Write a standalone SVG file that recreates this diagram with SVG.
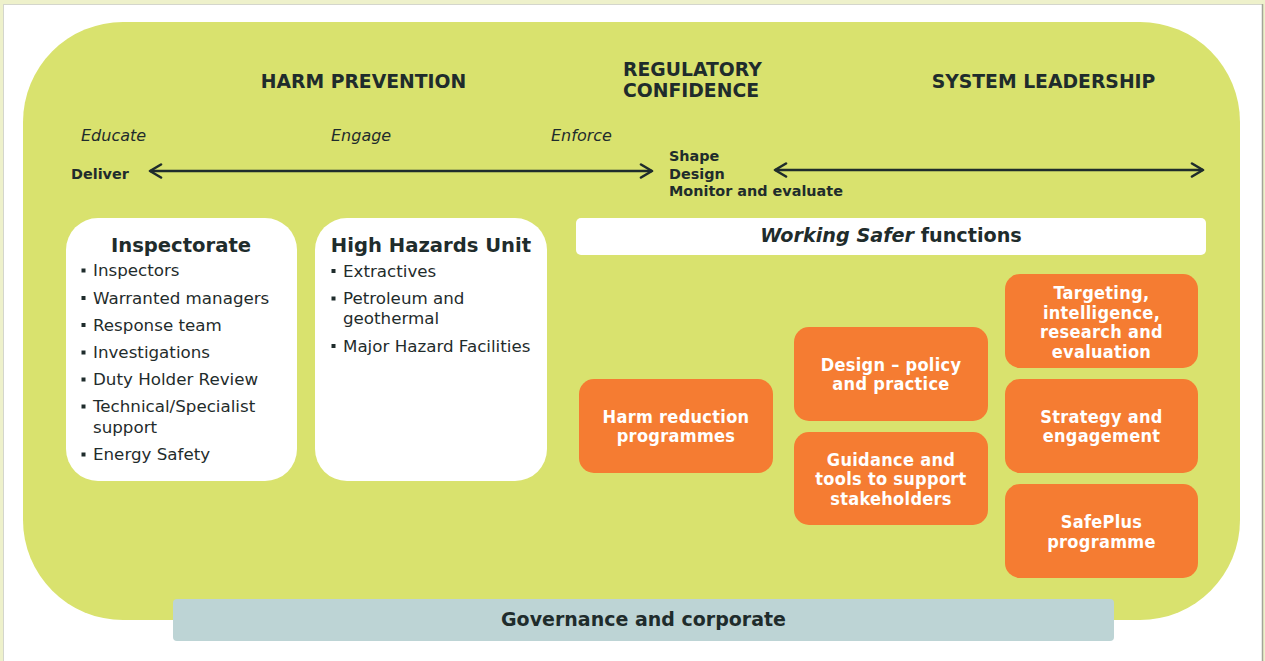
<svg xmlns="http://www.w3.org/2000/svg" width="1265" height="661" viewBox="0 0 1265 661">
  <defs>
    <style>
      .t { font-family: "DejaVu Sans", Verdana, sans-serif; fill: #1f2c2c; }
      .hd { font-weight: bold; font-size: 18.8px; }
      .ph { font-style: italic; font-size: 16px; }
      .st { font-family: "DejaVu Sans", sans-serif; font-weight: bold; font-size: 14.4px; fill: #1f2c2c; }
      .ttl { font-weight: bold; font-size: 19.6px; text-anchor: middle; }
      .li { font-size: 16.7px; }
      .bul { fill: #1f2c2c; }
      .wbox { fill: #ffffff; }
      .obox { fill: #f57c32; }
      .ot { font-family: "DejaVu Sans Condensed", "DejaVu Sans", sans-serif; font-stretch: condensed; font-weight: bold; font-size: 18px; letter-spacing: 0.3px; fill: #ffffff; text-anchor: middle; }
      .arrow { stroke: #1f2c2c; stroke-width: 2.6; fill: none; }
    </style>
    <marker id="chev" markerUnits="userSpaceOnUse" viewBox="0 0 16 16" refX="14" refY="8" markerWidth="16" markerHeight="16" orient="auto-start-reverse">
      <path d="M3,1.5 L14,8 L3,14.5" fill="none" stroke="#1f2c2c" stroke-width="2.6" stroke-linecap="round" stroke-linejoin="round"/>
    </marker>
  </defs>

  <!-- page frame -->
  <rect x="0" y="0" width="1265" height="661" fill="#eef1cb"/>
  <rect x="3.5" y="4.5" width="1259" height="660" fill="#ffffff" stroke="#d4d6cc" stroke-width="1"/>
  <line x1="1262.5" y1="4" x2="1262.5" y2="661" stroke="#a3a597" stroke-width="1.5"/>

  <!-- large green panel -->
  <rect x="23" y="22" width="1217" height="598" rx="100" ry="100" fill="#d9e26e"/>

  <!-- column headings -->
  <text class="t hd" x="363.5" y="88" text-anchor="middle">HARM PREVENTION</text>
  <text class="t hd" x="623" y="76">REGULATORY</text>
  <text class="t hd" x="623" y="97">CONFIDENCE</text>
  <text class="t hd" x="1043.5" y="88" text-anchor="middle">SYSTEM LEADERSHIP</text>

  <text class="t ph" x="81" y="141">Educate</text>
  <text class="t ph" x="331" y="141">Engage</text>
  <text class="t ph" x="551" y="141">Enforce</text>

  <text class="st" x="71" y="179">Deliver</text>
  <text class="st" x="669" y="161">Shape</text>
  <text class="st" x="669" y="179">Design</text>
  <text class="st" x="669" y="196">Monitor and evaluate</text>

  <!-- connectors -->
  <g id="connectors">
    <line class="arrow" x1="150" y1="171" x2="652" y2="171" marker-start="url(#chev)" marker-end="url(#chev)"/>
    <line class="arrow" x1="775" y1="170" x2="1203" y2="170" marker-start="url(#chev)" marker-end="url(#chev)"/>
  </g>

  <!-- Inspectorate -->
  <g id="inspectorate">
    <rect class="wbox" x="66" y="218" width="231" height="263" rx="32" ry="32"/>
    <text class="t ttl" x="181" y="252">Inspectorate</text>
    <rect class="bul" x="81.5" y="268.5" width="4" height="4"/>
    <text class="t li" x="93" y="276">Inspectors</text>
    <rect class="bul" x="81.5" y="296" width="4" height="4"/>
    <text class="t li" x="93" y="303.5">Warranted managers</text>
    <rect class="bul" x="81.5" y="323" width="4" height="4"/>
    <text class="t li" x="93" y="330.5">Response team</text>
    <rect class="bul" x="81.5" y="350.5" width="4" height="4"/>
    <text class="t li" x="93" y="358">Investigations</text>
    <rect class="bul" x="81.5" y="377.5" width="4" height="4"/>
    <text class="t li" x="93" y="385">Duty Holder Review</text>
    <rect class="bul" x="81.5" y="404.5" width="4" height="4"/>
    <text class="t li" x="93" y="412">Technical/Specialist</text>
    <text class="t li" x="93" y="432.5">support</text>
    <rect class="bul" x="81.5" y="452.5" width="4" height="4"/>
    <text class="t li" x="93" y="460">Energy Safety</text>
  </g>

  <!-- High Hazards Unit -->
  <g id="high-hazards-unit">
    <rect class="wbox" x="315" y="218" width="232" height="263" rx="32" ry="32"/>
    <text class="t ttl" x="431" y="252">High Hazards Unit</text>
    <rect class="bul" x="331.5" y="269" width="4" height="4"/>
    <text class="t li" x="343" y="276.5">Extractives</text>
    <rect class="bul" x="331.5" y="296.5" width="4" height="4"/>
    <text class="t li" x="343" y="304">Petroleum and</text>
    <text class="t li" x="343" y="324">geothermal</text>
    <rect class="bul" x="331.5" y="344" width="4" height="4"/>
    <text class="t li" x="343" y="351.5">Major Hazard Facilities</text>
  </g>

  <!-- Working Safer functions banner -->
  <g id="working-safer">
    <rect class="wbox" x="576" y="218" width="630" height="37" rx="5" ry="5"/>
    <text class="t" x="891" y="242" text-anchor="middle" font-weight="bold" font-size="19.2px"><tspan font-style="italic">Working Safer</tspan> functions</text>
  </g>

  <!-- Working Safer function boxes -->
  <g id="harm-reduction">
    <rect class="obox" x="579" y="379" width="194" height="94" rx="15" ry="15"/>
    <text class="ot" x="676" y="423">Harm reduction</text>
    <text class="ot" x="676" y="442">programmes</text>
  </g>

  <g id="design-policy">
    <rect class="obox" x="794" y="327" width="194" height="94" rx="15" ry="15"/>
    <text class="ot" x="891" y="371">Design – policy</text>
    <text class="ot" x="891" y="390">and practice</text>
  </g>

  <g id="guidance-tools">
    <rect class="obox" x="794" y="432" width="194" height="93" rx="15" ry="15"/>
    <text class="ot" x="891" y="465.5">Guidance and</text>
    <text class="ot" x="891" y="485">tools to support</text>
    <text class="ot" x="891" y="504.5">stakeholders</text>
  </g>

  <g id="targeting">
    <rect class="obox" x="1005" y="274" width="193" height="94" rx="15" ry="15"/>
    <text class="ot" x="1101.5" y="299">Targeting,</text>
    <text class="ot" x="1101.5" y="318.5">intelligence,</text>
    <text class="ot" x="1101.5" y="338">research and</text>
    <text class="ot" x="1101.5" y="358">evaluation</text>
  </g>

  <g id="strategy">
    <rect class="obox" x="1005" y="379" width="193" height="94" rx="15" ry="15"/>
    <text class="ot" x="1101.5" y="423">Strategy and</text>
    <text class="ot" x="1101.5" y="442">engagement</text>
  </g>

  <g id="safeplus">
    <rect class="obox" x="1005" y="484" width="193" height="94" rx="15" ry="15"/>
    <text class="ot" x="1101.5" y="528">SafePlus</text>
    <text class="ot" x="1101.5" y="547.5">programme</text>
  </g>

  <!-- Governance bar -->
  <g id="governance">
    <rect x="173" y="599" width="941" height="42" rx="4" ry="4" fill="#bdd4d5"/>
    <text class="t" x="643.5" y="626" text-anchor="middle" font-weight="bold" font-size="19px">Governance and corporate</text>
  </g>
</svg>
